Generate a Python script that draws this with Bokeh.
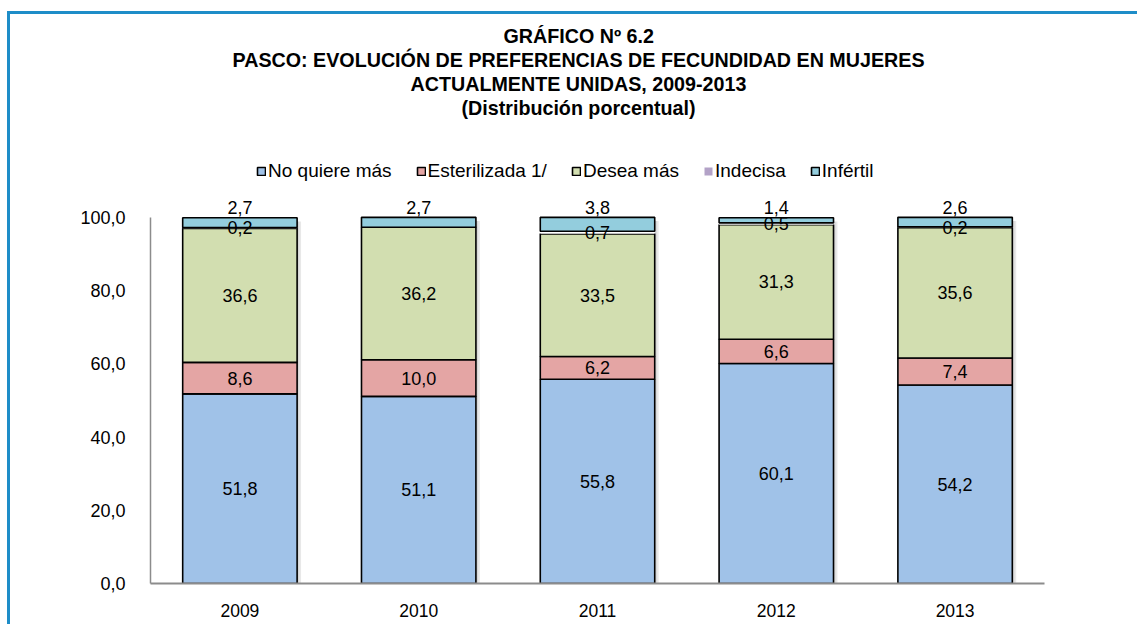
from bokeh.plotting import figure
from bokeh.models import (ColumnDataSource, FactorRange, Range1d, Legend, Title,
                          LegendItem, CustomJSTickFormatter, FixedTicker)
from bokeh.transform import dodge
from bokeh.core.properties import value
from bokeh.embed import file_html
from bokeh.resources import INLINE

# ---------------- data ----------------
years = ["2009", "2010", "2011", "2012", "2013"]
no_quiere = [51.8, 51.1, 55.8, 60.1, 54.2]
esterilizada = [8.6, 10.0, 6.2, 6.6, 7.4]
desea = [36.6, 36.2, 33.5, 31.3, 35.6]
indecisa = [0.2, 0.0, 0.7, 0.5, 0.2]
infertil = [2.7, 2.7, 3.8, 1.4, 2.6]
series_names = ["No quiere más", "Esterilizada 1/", "Desea más", "Indecisa", "Infértil"]
title_lines = [
    "GRÁFICO Nº 6.2",
    "PASCO: EVOLUCIÓN DE PREFERENCIAS DE FECUNDIDAD EN MUJERES",
    "ACTUALMENTE UNIDAS, 2009-2013",
    "(Distribución porcentual)",
]
y_ticks = [0, 20, 40, 60, 80, 100]

# ---------------- style ----------------
FONT = "Liberation Sans"
colors = ["#A0C2E8", "#E4A5A4", "#D2DEB0", "#FFFFFF", "#93CDDD"]
legend_colors = ["#A0C2E8", "#E4A5A4", "#D2DEB0", "#B3A2C7", "#93CDDD"]
keys = ["no_quiere", "esterilizada", "desea", "indecisa", "infertil"]
series = [no_quiere, esterilizada, desea, indecisa, infertil]
title_left_offsets = [353, 82, 260, 311]   # left-aligned placement so lines centre near x=578
BLUE = "#1E8DC8"

W, H = 1137, 624
p = figure(x_range=FactorRange(*years, range_padding=0), y_range=Range1d(0, 127.0),
           width=W, height=H, output_backend="svg", toolbar_location=None,
           min_border_left=150, min_border_right=93, min_border_top=118,
           min_border_bottom=41)
p.title.visible = False
p.outline_line_color = None
p.xgrid.grid_line_color = None
p.ygrid.grid_line_color = None
p.border_fill_alpha = 0
p.background_fill_color = "white"
grad = f"linear-gradient({BLUE}, {BLUE})"
p.styles = {
    "background-color": "white",
    "background-image": f"{grad}, {grad}",
    "background-position": "8px 11px, 7px 11px",
    "background-size": "1129px 3px, 3px 613px",
    "background-repeat": "no-repeat, no-repeat",
}

data = dict(years=years)
for k, s in zip(keys, series):
    data[k] = s
totals = [sum(v) for v in zip(*series)]
data["shadow_top"] = [t - 1.0 for t in totals]
src = ColumnDataSource(data)

BW = 0.64
# soft shadow
p.vbar(x=dodge("years", 0.022, range=p.x_range), top="shadow_top", bottom=0, width=BW,
       source=src, fill_color="black", fill_alpha=0.09, line_color=None)
p.vbar(x=dodge("years", 0.012, range=p.x_range), top="shadow_top", bottom=0, width=BW,
       source=src, fill_color="black", fill_alpha=0.07, line_color=None)

rends = p.vbar_stack(keys, x="years", width=BW, source=src, fill_color=colors,
                     line_color=["black", "black", "black", None, "black"],
                     line_width=1.6)

# legend-only glyph for Indecisa (zero-height bar, invisible in the plot)
dummy = p.vbar(x=[years[0]], top=[0], bottom=[0], width=BW,
               fill_color=legend_colors[3], line_color=None)
items = []
for i, name in enumerate(series_names):
    r = dummy if i == 3 else rends[i]
    items.append(LegendItem(label=name, renderers=[r]))
legend = Legend(items=items, orientation="horizontal", location=(106, 401),
                glyph_width=10, glyph_height=10, label_standoff=2, spacing=24,
                padding=0, margin=0, border_line_color=None,
                background_fill_alpha=0, label_text_font=FONT,
                label_text_font_size="19px", label_text_color="black",
                label_height=18)
p.add_layout(legend, "center")

# data labels
lx, ly, lt, loff = [], [], [], []
for j, yr in enumerate(years):
    base = 0.0
    for i, s in enumerate(series):
        v = s[j]
        if v > 0:
            if i == 4:
                lx.append(yr); ly.append(base + v); loff.append(-10)
            else:
                lx.append(yr); ly.append(base + v / 2); loff.append(0)
            lt.append(f"{v:.1f}".replace(".", ","))
        base += v
lsrc = ColumnDataSource(dict(x=lx, y=ly, t=lt, off=loff))
p.text(x="x", y="y", text="t", y_offset="off", source=lsrc, text_align="center",
       text_baseline="middle", text_font=value(FONT), text_font_size="18px",
       text_color="black")

# axes
p.yaxis.ticker = FixedTicker(ticks=y_ticks)
p.yaxis.formatter = CustomJSTickFormatter(code="return tick.toFixed(1).replace('.', ',');")
p.yaxis.bounds = (0, 100)
p.yaxis.axis_line_color = "#8C8C8C"
p.yaxis.axis_line_width = 1.5
p.yaxis.major_tick_line_color = None
p.yaxis.minor_tick_line_color = None
p.yaxis.major_label_standoff = 19
p.yaxis.major_label_text_font = FONT
p.yaxis.major_label_text_font_size = "18px"
p.yaxis.major_label_text_color = "black"

p.xaxis.axis_line_color = "#8C8C8C"
p.xaxis.axis_line_width = 2
p.xaxis.major_tick_line_color = None
p.xaxis.minor_tick_line_color = None
p.xaxis.major_label_standoff = 14
p.xaxis.major_label_text_font = FONT
p.xaxis.major_label_text_font_size = "17.5px"
p.xaxis.major_label_text_color = "black"

# titles: first added sits nearest the frame
for txt, off in reversed(list(zip(title_lines, title_left_offsets))):
    p.add_layout(Title(text=txt, align="left", offset=off, standoff=0,
                       text_font=FONT, text_font_size="19.7px",
                       text_font_style="bold", text_color="black"), "above")

open("out.html", "w").write(file_html(p, INLINE))
